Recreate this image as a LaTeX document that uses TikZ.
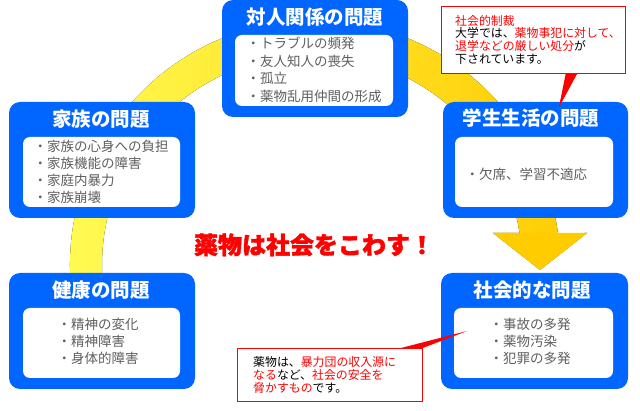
\documentclass[tikz,border=0pt]{standalone}
\usepackage{fontspec}
\setmainfont{Noto Sans CJK JP}
\newfontfamily\headfont[BoldFeatures={FakeBold=1.6}]{Noto Sans CJK JP}
\usetikzlibrary{calc}
\definecolor{boxblue}{RGB}{0,102,255}
\definecolor{itemgray}{RGB}{95,95,95}
\definecolor{callred}{RGB}{255,0,0}
\definecolor{ylight}{RGB}{255,252,85}
\definecolor{ymid}{RGB}{255,226,40}
\definecolor{ygold}{RGB}{255,204,0}
\tikzset{
  outerbox/.style={fill=boxblue, rounded corners=11pt, inner sep=0pt, outer sep=0pt, anchor=north west},
  innerbox/.style={fill=white, rounded corners=7pt, inner sep=0pt, outer sep=0pt, anchor=north west},
  boxtitle/.style={text=white, font=\fontsize{19.5}{22}\selectfont\bfseries, inner sep=0pt, anchor=base},
  itemline/.style={text=itemgray, font=\fontsize{13.5}{16}\selectfont, inner sep=0pt, anchor=base west},
  callbox/.style={draw=callred, fill=white, line width=1pt, inner sep=0pt, anchor=north west},
  callline/.style={text=black, font=\fontsize{11.9}{13}\selectfont, inner sep=0pt, anchor=base west},
  pointer/.style={fill=callred, draw=none},
  headline/.style={text=callred, font=\headfont\fontsize{24}{28}\selectfont\bfseries, inner sep=0pt, anchor=base}
}
\begin{document}
\begin{tikzpicture}[x=1pt,y=-1pt]
\useasboundingbox (0,0) rectangle (640,411);
% yellow cycle band
\fill[left color=ylight, right color=ygold, middle color=ymid]
  ($(315,265)+(171.8:245)$) arc[start angle=171.8, end angle=352.5, radius=245]
  -- (587,233) -- (540,270) -- (493,233)
  -- ($(312,265)+(351.2:210)$) arc[start angle=351.2, end angle=170.4, radius=210] -- cycle;
\fill[ygold] (587,233) -- (540,270) -- (493,233) -- cycle;

% top box
\node[outerbox, minimum width=186pt, minimum height=117pt] (topB) at (222,0) {};
\node[innerbox, minimum width=158pt, minimum height=71pt] (topI) at (235,35) {};
\node[boxtitle] (topT) at (315,24.4) {対人関係の問題};
\node[itemline] (top1) at (246.5,48.6) {・トラブルの頻発};
\node[itemline] (top2) at (246.5,66.3) {・友人知人の喪失};
\node[itemline] (top3) at (246.5,84) {・孤立};
\node[itemline] (top4) at (246.5,101.7) {・薬物乱用仲間の形成};

% family box
\node[outerbox, minimum width=186pt, minimum height=116pt] (famB) at (9,102) {};
\node[innerbox, minimum width=157pt, minimum height=70pt] (famI) at (23,137) {};
\node[boxtitle] (famT) at (101,126.4) {家族の問題};
\node[itemline] (fam1) at (33.5,152) {・家族の心身への負担};
\node[itemline] (fam2) at (33.5,169) {・家族機能の障害};
\node[itemline] (fam3) at (33.5,186) {・家庭内暴力};
\node[itemline] (fam4) at (33.5,203) {・家族崩壊};

% health box
\node[outerbox, minimum width=186pt, minimum height=116pt] (heaB) at (9,273) {};
\node[innerbox, minimum width=157pt, minimum height=70pt] (heaI) at (23,308) {};
\node[boxtitle] (heaT) at (101,297.4) {健康の問題};
\node[itemline] (hea1) at (57.5,330) {・精神の変化};
\node[itemline] (hea2) at (57.5,347) {・精神障害};
\node[itemline] (hea3) at (57.5,364) {・身体的障害};

% student life box
\node[outerbox, minimum width=185pt, minimum height=116pt] (stuB) at (443,102) {};
\node[innerbox, minimum width=158pt, minimum height=70pt] (stuI) at (455,137) {};
\node[boxtitle] (stuT) at (531,125.4) {学生生活の問題};
\node[itemline] (stu1) at (465.5,180) {・欠席、学習不適応};

% social box
\node[outerbox, minimum width=187pt, minimum height=116pt] (socB) at (441,273) {};
\node[innerbox, minimum width=159pt, minimum height=70pt] (socI) at (454,308) {};
\node[boxtitle] (socT) at (532,297.4) {社会的な問題};
\node[itemline] (soc1) at (489.5,330) {・事故の多発};
\node[itemline] (soc2) at (489.5,347) {・薬物汚染};
\node[itemline] (soc3) at (489.5,364) {・犯罪の多発};

% heading
\node[headline] (head) at (314,254) {薬物は社会をこわす！};

% callout 1
\coordinate (c1tip) at (559,107);
\fill[pointer] (566,72) -- (578,72) -- (c1tip) -- cycle;
\node[callbox, minimum width=184pt, minimum height=67pt] (call1) at (441,6) {};
\fill[pointer] (567,73.5) -- (577,73.5) -- (c1tip) -- cycle;
\node[callline] (c1a) at (455,25.4) {\textcolor{callred}{社会的制裁}};
\node[callline] (c1b) at (455,38) {大学では、\textcolor{callred}{薬物事犯に対して、}};
\node[callline] (c1c) at (455,50.6) {\textcolor{callred}{退学などの厳しい処分}が};
\node[callline] (c1d) at (455,63.4) {下されています。};

% callout 2
\coordinate (c2tip) at (467,331);
\node[callbox, minimum width=185pt, minimum height=53pt] (call2) at (237,348) {};
\fill[pointer] (399,348.5) -- (421.5,348.5) -- (c2tip) -- cycle;
\node[callline] (c2a) at (253,366.4) {薬物は、\textcolor{callred}{暴力団の収入源に}};
\node[callline] (c2b) at (253,379.4) {\textcolor{callred}{なる}など、\textcolor{callred}{社会の安全を}};
\node[callline] (c2c) at (253,392.4) {\textcolor{callred}{脅かすもの}です。};
\end{tikzpicture}
\end{document}
